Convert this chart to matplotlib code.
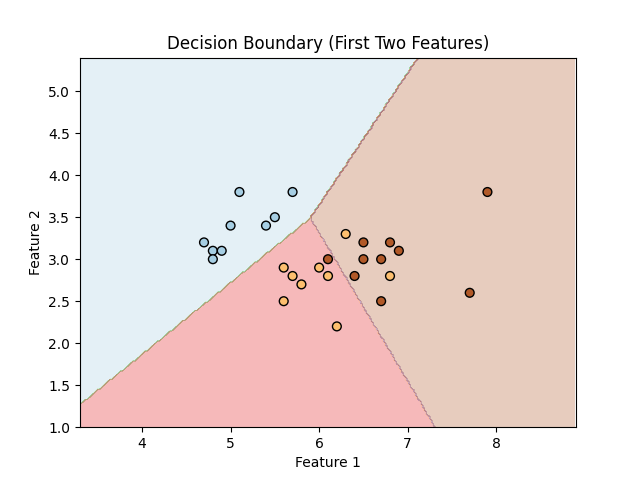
import numpy as np
import matplotlib
matplotlib.use("Agg")
import matplotlib.pyplot as plt

# Test points
feature_1 = [4.7, 4.8, 4.8, 4.9, 5.0, 5.1, 5.4, 5.5, 5.7,
             5.6, 5.6, 5.7, 5.8, 6.0, 6.1, 6.2, 6.3, 6.8,
             6.1, 6.4, 6.5, 6.5, 6.7, 6.7, 6.8, 6.9, 7.7, 7.9]
feature_2 = [3.2, 3.1, 3.0, 3.1, 3.4, 3.8, 3.4, 3.5, 3.8,
             2.9, 2.5, 2.8, 2.7, 2.9, 2.8, 2.2, 3.3, 2.8,
             3.0, 2.8, 3.2, 3.0, 3.0, 2.5, 3.2, 3.1, 2.6, 3.8]
labels = [0] * 9 + [1] * 9 + [2] * 10

# Class borders
blue_pink_x = [3.3, 5.9]
blue_pink_y = [1.27, 3.49]
brown_edge_y = [1.0, 3.49, 5.4]
brown_edge_x = [7.31, 5.9, 7.115]

x_min, x_max = 3.3, 8.9
y_min, y_max = 1.0, 5.4
h = 0.02

xx, yy = np.meshgrid(np.arange(x_min, x_max, h), np.arange(y_min, y_max, h))

# slope continues past the junction, only the brown check matters there
slope = (blue_pink_y[1] - blue_pink_y[0]) / (blue_pink_x[1] - blue_pink_x[0])
border_y = blue_pink_y[0] + slope * (xx - blue_pink_x[0])
border_x = np.interp(yy, brown_edge_y, brown_edge_x)

Z = np.where(xx > border_x, 2, np.where(yy > border_y, 0, 1))

plt.figure(figsize=(6.4, 4.8), dpi=100)
plt.contourf(xx, yy, Z, alpha=0.3, cmap=plt.cm.Paired)
plt.scatter(feature_1, feature_2, c=labels, s=40, edgecolors="k", cmap=plt.cm.Paired)
plt.xlim(x_min, x_max)
plt.ylim(y_min, y_max)
plt.xlabel("Feature 1")
plt.ylabel("Feature 2")
plt.title("Decision Boundary (First Two Features)")
plt.savefig("out.png", dpi=100)
